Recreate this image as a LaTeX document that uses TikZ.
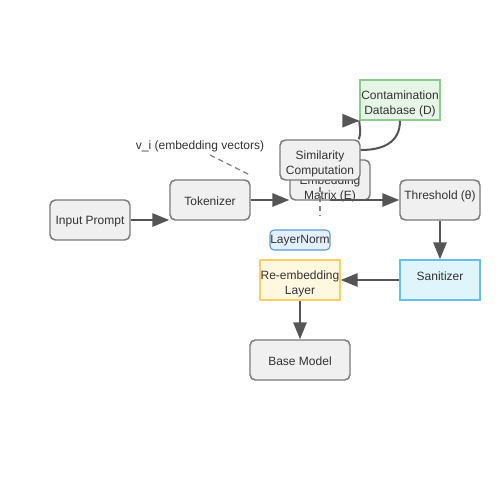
\documentclass[tikz,border=0pt]{standalone}
\usepackage{fontspec}
\setmainfont{Liberation Sans}
\usetikzlibrary{arrows.meta,calc}
\definecolor{boxfill}{HTML}{F0F0F0}
\definecolor{boxdraw}{HTML}{7A7A7A}
\definecolor{txt}{HTML}{333333}
\definecolor{edge}{HTML}{555555}
\definecolor{greenfill}{HTML}{E6F5E6}
\definecolor{greendraw}{HTML}{8CCB8C}
\definecolor{bluefill}{HTML}{E0F4FC}
\definecolor{bluedraw}{HTML}{66BFEA}
\definecolor{lnfill}{HTML}{E3F0FC}
\definecolor{lndraw}{HTML}{5B9BD5}
\definecolor{yelfill}{HTML}{FFF8E1}
\definecolor{yeldraw}{HTML}{FFCC66}
\tikzset{
  base/.style={minimum width=60pt, minimum height=30pt, inner sep=0pt, align=center, text=txt, font=\fontsize{9pt}{11.25pt}\selectfont, line width=1.1pt},
  lab/.style={inner sep=0pt, align=center, text=txt, font=\fontsize{9pt}{11.25pt}\selectfont},
  grey/.style={base, fill=boxfill, draw=boxdraw, rounded corners=4pt},
  conn/.style={draw=edge, line width=1.5pt, -{Triangle[length=12.75pt,width=10pt]}},
  plain/.style={draw=edge, line width=1.5pt},
  dashline/.style={draw=gray, line width=0.9pt, dash pattern=on 4pt off 3pt},
}
\begin{document}
\begin{tikzpicture}[x=0.75pt,y=-0.75pt]
\useasboundingbox (0,0) rectangle (500,500);
\fill[white] (0,0) rectangle (500,500);
% nodes
\node[grey] (inp) at (90,220) {};
\node[lab] at (90,221.5) {Input Prompt};
\node[grey] (tok) at (210,200) {};
\node[lab] at (210,201.5) {Tokenizer};
\node[grey] (emb) at (330,180) {};
\node[lab] (embt) at (330,188.5) {Embedding\\Matrix (E)};
\node[grey] (sim) at (320,160) {};
\node[lab] (simt) at (320,163.5) {Similarity\\Computation};
\node[base, fill=greenfill, draw=greendraw] (db) at (400,100) {};
\node[lab] (dbt) at (400,103.5) {Contamination\\Database (D)};
\node[grey] (thr) at (440,200) {};
\node[lab] at (440,196.5) {Threshold (θ)};
\node[base, fill=bluefill, draw=bluedraw] (san) at (440,280) {};
\node[lab] at (440,276.5) {Sanitizer};
\node[base, fill=yelfill, draw=yeldraw] (re) at (300,280) {};
\node[lab] (ret) at (300,283.5) {Re-embedding\\Layer};
\node[base, minimum width=45pt, minimum height=15pt, fill=lnfill, draw=lndraw, rounded corners=3pt, line width=0.8pt] (ln) at (300,240) {};
\node[lab] at (300,240.5) {LayerNorm};
\node[grey, minimum width=75pt] (bm) at (300,360) {};
\node[lab] at (300,361.5) {Base Model};
\node[lab] (lbl) at (200,146) {v\_i (embedding vectors)};
\coordinate (lblend) at (250,175);
\coordinate (lblstart) at (210,155);
\coordinate (dtop) at (320,187);
\coordinate (dbot) at (320,216);
% connectors
\draw[conn] (inp.east) -- (tok.west |- inp.east);
\draw[conn] (tok.east) -- (tok.east -| emb.west);
\draw[conn] (thr.west -| emb.south) -- (thr.west);
\draw[conn] (thr.south) -- (san.north);
\draw[conn] (san.west) -- (re.east);
\draw[conn] (re.south) -- (bm.north);
\draw[plain] ($(sim.north east)+(-2,0)$) .. controls ($(sim.north east)+(1,-8)$) and ($(db.south west)+(0,6)$) .. (db.south west);
\draw[conn] ($(db.south west)+(-1,0)$) -- (db.south west);
\draw[plain] (db.south) .. controls ($(db.south)+(0,22)$) and ($(sim.east)+(22,-10)$) .. ($(sim.east)+(0,-10)$);
\draw[dashline] (lblstart) -- (lblend);
\draw[dashline] (dtop) -- (dbot);
\end{tikzpicture}
\end{document}
